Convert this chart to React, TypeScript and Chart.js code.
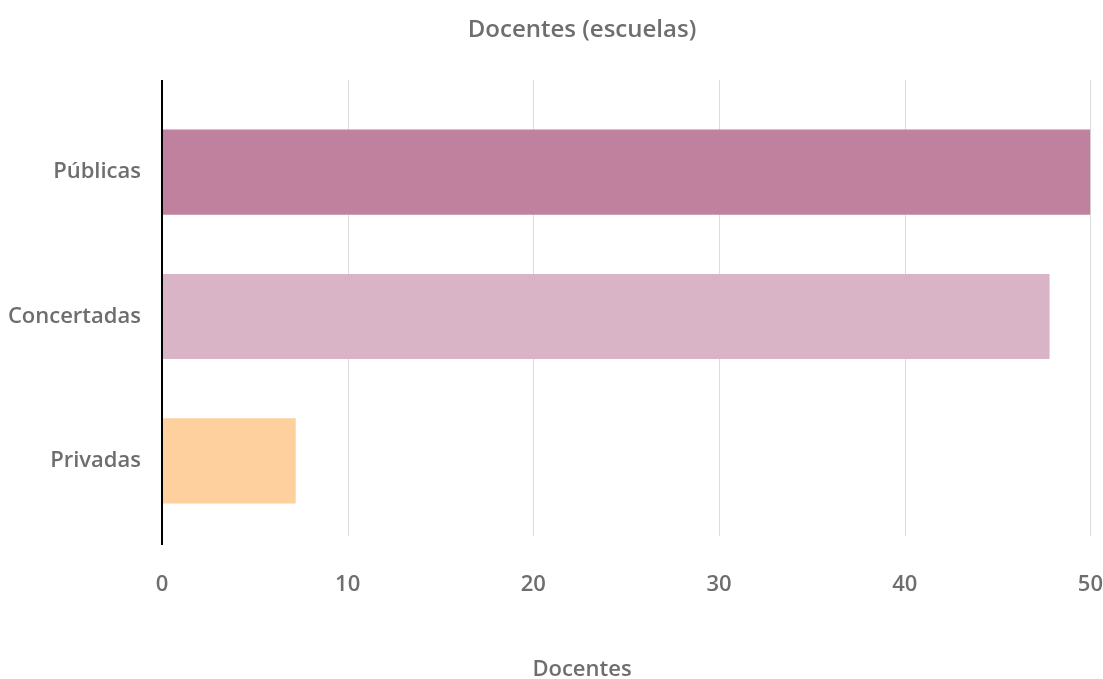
import React, { useEffect, useRef } from "react";
import { Chart, registerables } from "chart.js";

Chart.register(...registerables);

const categories = ["Públicas", "Concertadas", "Privadas"];
const values = [50, 47.8, 7.2];
const barColors = ["#bf819e", "#d9b3c6", "#fdd09e"];
const xTicks = [0, 10, 20, 30, 40, 50];
const chartTitle = "Docentes (escuelas)";
const xTitle = "Docentes";

const FONT = "'Open Sans', Roboto, sans-serif";
const GREY = "#6e6e6e";
const TITLE_BOX_LEFT = 72;

const linesPlugin = {
  id: "customLines",
  afterLayout(chart: any) {
    chart.boxes.forEach((b: any) => {
      if (b.options && typeof b.options.text === "string" && !b.axis) {
        b.left = TITLE_BOX_LEFT;
        b.width = b.right - b.left;
      }
    });
  },
  beforeDatasetsDraw(chart: any) {
    const { ctx, chartArea, scales } = chart;
    const x = scales.x;
    ctx.save();
    ctx.strokeStyle = "#dcdcdc";
    ctx.lineWidth = 1;
    xTicks.forEach((v) => {
      if (v === 0) return;
      const px = Math.round(x.getPixelForValue(v)) + 0.5;
      ctx.beginPath();
      ctx.moveTo(px, chartArea.top - 20);
      ctx.lineTo(px, chartArea.bottom + 3);
      ctx.stroke();
    });
    ctx.restore();
  },
  afterDatasetsDraw(chart: any) {
    const { ctx, chartArea, scales } = chart;
    const px = scales.x.getPixelForValue(0);
    ctx.save();
    ctx.strokeStyle = "#000000";
    ctx.lineWidth = 2;
    ctx.beginPath();
    ctx.moveTo(px, chartArea.top - 20);
    ctx.lineTo(px, chartArea.bottom + 12);
    ctx.stroke();
    ctx.restore();
  },
};

export default function App() {
  const ref = useRef<HTMLCanvasElement>(null);
  useEffect(() => {
    if (!ref.current) return;
    const chart = new Chart(ref.current, {
      type: "bar",
      data: {
        labels: categories,
        datasets: [
          {
            data: values,
            backgroundColor: barColors,
            borderWidth: 0,
            barPercentage: 1,
            categoryPercentage: 0.59,
          },
        ],
      },
      options: {
        indexAxis: "y",
        animation: false,
        responsive: true,
        maintainAspectRatio: false,
        layout: { padding: { left: 0, right: 11, top: 0, bottom: 0 } },
        plugins: {
          legend: { display: false },
          tooltip: { enabled: false },
          title: {
            display: true,
            text: chartTitle,
            color: GREY,
            font: { family: FONT, size: 24, weight: "600" },
            padding: { top: 15.6, bottom: 55.6 },
          },
          subtitle: {
            display: true,
            position: "bottom",
            text: xTitle,
            color: GREY,
            font: { family: FONT, size: 22, weight: "600" },
            padding: { top: 58.6, bottom: -4.2 },
          },
        },
        scales: {
          x: {
            min: 0,
            max: 50,
            grid: { display: false, drawTicks: true, tickLength: 38.8 },
            border: { display: false },
            ticks: {
              stepSize: 10,
              color: GREY,
              padding: 0,
              font: { family: FONT, size: 22, weight: "600" },
            },
          },
          y: {
            grid: { display: false, drawTicks: false },
            border: { display: false },
            afterFit: (scale: any) => {
              scale.width = 162;
            },
            ticks: {
              color: GREY,
              padding: 21,
              font: { family: FONT, size: 22, weight: "600" },
            },
          },
        },
      },
      plugins: [linesPlugin],
    });
    return () => chart.destroy();
  }, []);
  return (
    <div style={{ position: "absolute", left: 0, top: 0, width: 1103, height: 679 }}>
      <canvas ref={ref} />
    </div>
  );
}
